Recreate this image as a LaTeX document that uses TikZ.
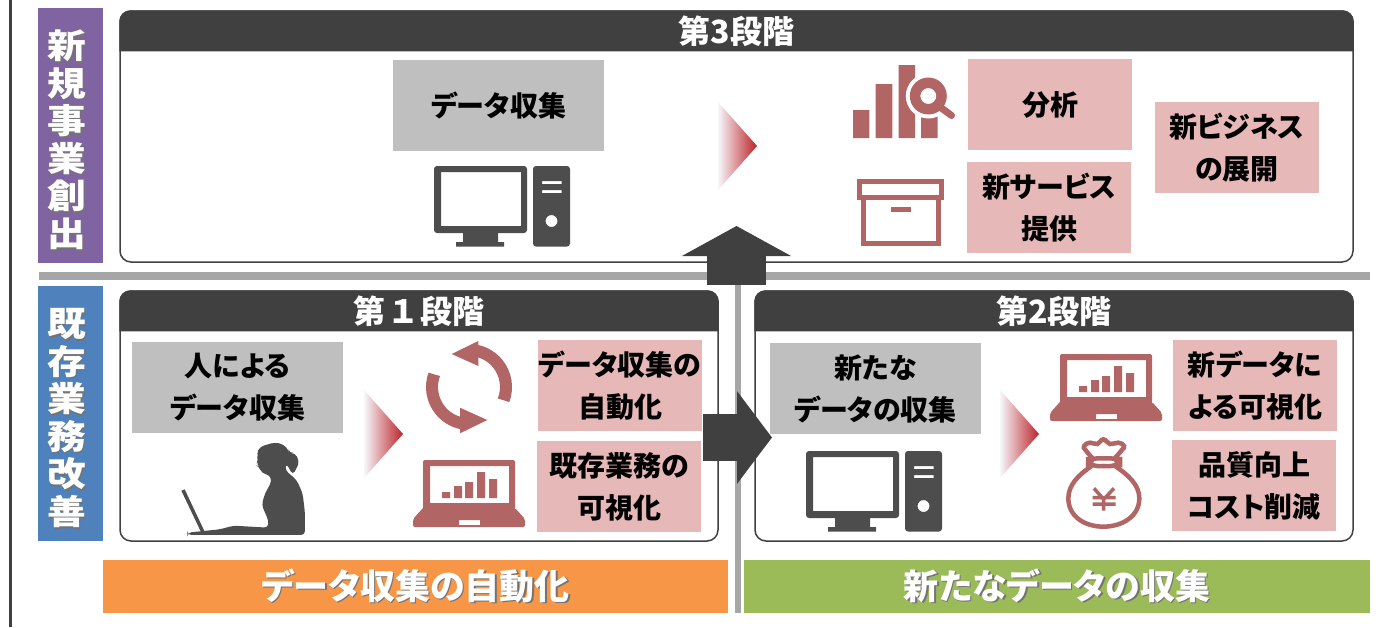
\documentclass[tikz,border=0pt]{standalone}
\usepackage{fontspec}
\setmainfont{Noto Sans CJK JP}[RawFeature=+palt]
\usetikzlibrary{arrows.meta}

\definecolor{darkhead}{HTML}{404040}
\definecolor{iconpc}{HTML}{4D4D4D}
\definecolor{iconred}{HTML}{B26565}
\definecolor{grayfill}{HTML}{BFBFBF}
\definecolor{pinkfill}{HTML}{E6B8B7}
\definecolor{sidepurple}{HTML}{8064A2}
\definecolor{sideblue}{HTML}{4F81BD}
\definecolor{bandorange}{HTML}{F79646}
\definecolor{bandgreen}{HTML}{9BBB59}
\definecolor{rulegray}{HTML}{A6A6A6}
\definecolor{fadeleft}{HTML}{F6F7FB}
\definecolor{fademid}{HTML}{E4CBD0}
\definecolor{faderight}{HTML}{BC2329}

\newcommand{\shadowtext}[1]{\rlap{\kern1.5pt\raisebox{-1.5pt}{\color{black!55}#1}}#1}
\newcommand{\sidechar}[1]{\raisebox{-4pt}[30pt][4pt]{\kern-8pt\scalebox{1.14}[1]{\shadowtext{#1}}}}

\tikzset{
  panel/.style={draw=darkhead, line width=1.5pt, fill=white, rounded corners=11pt, minimum width=598pt, minimum height=250pt},
  headtext/.style={text=white, inner sep=0pt, font=\bfseries\fontsize{32}{36}\selectfont},
  graybox/.style={fill=grayfill, align=center, inner sep=0pt, minimum width=211pt, minimum height=91pt, font=\bfseries\fontsize{28}{42}\selectfont},
  pinkbox/.style={fill=pinkfill, align=center, inner sep=0pt, minimum width=164pt, minimum height=91pt, font=\bfseries\fontsize{28}{42}\selectfont},
  sidebox/.style={align=center, inner sep=0pt, minimum width=65pt, minimum height=255pt, text=white, font=\bfseries\fontsize{34}{37.6}\selectfont},
  bandbox/.style={inner sep=0pt, minimum width=626pt, minimum height=53pt, text=white, font=\bfseries\fontsize{35}{40}\selectfont},
  bigarrow/.style={draw=darkhead, line width=47pt},
  pics/pcicon/.style={code={
    \fill[iconpc, even odd rule] [rounded corners=3pt] (0,0) rectangle (93,67) [sharp corners] (7,6) rectangle (87,60);
    \fill[iconpc] (29,67) rectangle (64,77) (22,76) rectangle (70,80.5);
    \fill[iconpc, even odd rule] [rounded corners=3pt] (99,0) rectangle (136,80.5) [sharp corners] (108,15) rectangle (127.6,18) (108,24) rectangle (127.6,27) (117.5,55) circle[radius=6pt];
  }},
  pics/laptopicon/.style={code={
    \fill[iconred, even odd rule] [rounded corners=2pt] (0,50) -- (0,0) -- (92,0) -- (92,50) [sharp corners] -- cycle (7,6) rectangle (86,43);
    \fill[iconred] (19,38) rectangle (27,32) (31,38) rectangle (39,26) (42,38) rectangle (50,22) (54,38) rectangle (62,12) (66,38) rectangle (74,19);
    \fill[iconred, even odd rule] [rounded corners=2pt] (0,48) -- (-10,59) -- (-10,67) -- (102,67) -- (102,59) -- (92,48) [sharp corners] -- cycle (36,60) rectangle (57,65);
  }},
  pics/fadetri/.style={code={
    \shade[left color=fadeleft, middle color=fademid, right color=faderight] (0,-44) -- (39,0) -- (0,44) -- cycle;
  }}
}

\begin{document}
\begin{tikzpicture}[x=1pt, y=-1pt]
\useasboundingbox (0,0) rectangle (1400,627);

\draw[line width=3pt, darkhead] (10,0) -- (10,627);

% side labels
\node[sidebox, fill=sidepurple] (sidenew) at (70.5,135.5) {\sidechar{新}\\\sidechar{規}\\\sidechar{事}\\\sidechar{業}\\\sidechar{創}\\\sidechar{出}};
\node[sidebox, fill=sideblue] (sideold) at (70.5,413.5) {\sidechar{既}\\\sidechar{存}\\\sidechar{業}\\\sidechar{務}\\\sidechar{改}\\\sidechar{善}};

% rules
\fill[rulegray] (39,272) rectangle (1370,280);
\fill[rulegray] (735,272) rectangle (741,613);

% panels
\node[panel, minimum width=1233pt, minimum height=251pt] (step3) at (736.5,136.5) {};
\node[panel] (step1) at (419,416) {};
\node[panel] (step2) at (1054,416) {};

\foreach \p/\t in {step3/第3段階, step1/第\,１\,段階, step2/第2段階} {
  \fill[darkhead] ([yshift=-41pt]\p.north west) [rounded corners=11pt] -- (\p.north west) -- (\p.north east) [sharp corners] -- ([yshift=-41pt]\p.north east) -- cycle;
  \node[headtext] (title-\p) at ([yshift=-21pt]\p.north) {\t};
}

% third stage
\node[graybox] (collect3) at (498.5,105.5) {データ収集};
\node[pinkbox] (analysis) at (1050,104.5) {分析};
\node[pinkbox] (service) at (1049,207.5) {新サービス\\提供};
\node[pinkbox] (business) at (1237,147.5) {新ビジネス\\の展開};
\pic at (718,146) {fadetri};
\pic at (434,166) {pcicon};

\fill[iconred] (853,110) rectangle (869.3,138) (875.7,84) rectangle (892.3,138) (898.7,65) rectangle (915,138) (921,115.7) rectangle (937.7,138);
\fill[white] (928.3,96) circle[radius=22.5pt];
\draw[iconred, line width=7pt, line cap=round] (940,107) -- (951.5,115.5);
\fill[iconred, even odd rule] (928.3,96) circle[radius=18.5pt] (928.3,96) circle[radius=8pt];

\draw[iconred, line width=5pt] (859.5,181.8) rectangle (941.5,197.5);
\draw[iconred, line width=5pt] (863.5,200) -- (863.5,243.3) -- (938.5,243.3) -- (938.5,200);
\fill[iconred] (890.7,206.7) rectangle (911,211.7);

% first stage
\node[graybox] (collect1) at (237.5,387.5) {人による\\データ収集};
\node[pinkbox] (auto) at (620,385.5) {データ収集の\\自動化};
\node[pinkbox] (visual) at (619,486.5) {既存業務の\\可視化};
\pic at (364,434) {fadetri};
\pic at (423,460) {laptopicon};

\draw[iconred, line width=12pt] ([shift={(-21:37pt)}]469,387) arc[start angle=-21, end angle=78, radius=37pt];
\fill[iconred] (451.7,354) -- (478.3,341) -- (478.3,366) -- cycle;
\draw[iconred, line width=12pt] ([shift={(160:37pt)}]469,387) arc[start angle=160, end angle=258, radius=37pt];
\fill[iconred] (487.3,420) -- (460,407.7) -- (460,433.3) -- cycle;

% woman at the notebook
\begin{scope}[shift={(170,430)}, x=0.3333pt, y=-0.3333pt]
\fill[iconpc] (34,182) -- (44,178) -- (103,303) -- (94,308) -- cycle;
\fill[iconpc] [rounded corners=4pt] (315,37) -- (340,43) -- (356,60) -- (358,70) -- (375,68) -- (388,95) -- (380,115) -- (368,135) -- (355,110) -- (348,100) -- (345,120) -- (380,150) -- (398,190) -- (405,250) -- (405,315) -- (52,315) -- (52,308) -- (100,303) -- (150,298) -- (190,287) -- (295,293) -- (295,270) -- (275,225) -- (285,190) -- (305,155) -- (300,135) -- (275,130) -- (268,110) -- (258,105) -- (265,90) -- (260,70) -- (270,50) -- cycle;
\end{scope}

% second stage
\node[graybox] (collect2) at (875.5,388.5) {新たな\\データの収集};
\node[pinkbox] (newvis) at (1255,385.5) {新データに\\よる可視化};
\node[pinkbox] (quality) at (1254,485.5) {品質向上\\コスト削減};
\pic at (806,451) {pcicon};
\pic at (1000,434) {fadetri};
\pic at (1060,354) {laptopicon};

% money bag
\begin{scope}[shift={(1050,430)}, x=0.3333pt, y=-0.3333pt]
\draw[iconred, line width=4.5pt, rounded corners=9pt] (114,85) rectangle (210,108);
\draw[iconred, line width=4.5pt] plot[smooth, tension=.8] coordinates {(128,85) (108,62) (102,48) (120,38) (142,42) (160,28) (180,42) (205,38) (222,48) (214,62) (194,85)};
\draw[iconred, line width=4.5pt] (125,108) .. controls (85,135) and (55,165) .. (55,205) .. controls (55,260) and (105,290) .. (160,290) .. controls (215,290) and (268,260) .. (268,205) .. controls (268,165) and (235,135) .. (195,108);
\draw[iconred, line width=3.5pt] (132,175) -- (161,208) -- (192,175) (128,203) -- (197,203) (128,222) -- (197,222) (161,208) -- (161,242);
\end{scope}

% block arrows
\coordinate (upfrom) at (736.5,285);
\coordinate (upto) at (736.5,226);
\coordinate (rightfrom) at (703,437.5);
\coordinate (rightto) at (772,437.5);
\draw[bigarrow, line width=59pt, -{Triangle[length=30pt, width=108pt]}] (upfrom) -- (upto);
\draw[bigarrow, -{Triangle[length=35pt, width=91pt]}] (rightfrom) -- (rightto);

% bands
\node[bandbox, fill=bandorange, minimum width=625pt] (bandauto) at (415.5,586.5) {\shadowtext{データ収集の自動化}};
\node[bandbox, fill=bandgreen] (bandnew) at (1057,586.5) {\shadowtext{新たなデータの収集}};
\end{tikzpicture}
\end{document}
